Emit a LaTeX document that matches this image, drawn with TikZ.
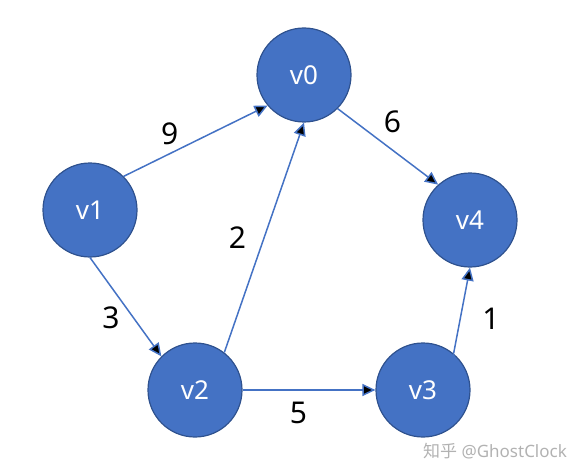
\documentclass[tikz,border=0pt]{standalone}
\usepackage{fontspec}
\setmainfont{Noto Sans}
\newfontfamily\cjk{Noto Sans CJK SC}
\usepackage{tikz}
\usetikzlibrary{arrows.meta}
\definecolor{vfill}{HTML}{4472C4}
\definecolor{vline}{HTML}{2F528F}

\begin{document}
\begin{tikzpicture}[x=1pt, y=-1pt,
	vertex/.style={circle, fill=vfill, draw=vline, line width=1.2pt, minimum size=94pt, inner sep=0pt, text=white, font=\fontsize{26}{30}\selectfont},
	weight/.style={font=\fontsize{30}{34}\selectfont, text=black},
	arc/.style={-{Triangle[length=13pt,width=12pt]}, draw=vfill, line width=1.5pt}]
\useasboundingbox (0,0) rectangle (586,476);
\node[vertex] (v0) at (304,75) {v0};
\node[vertex] (v1) at (90,210) {v1};
\node[vertex] (v4) at (470,220) {v4};
\node[vertex] (v2) at (195,390) {v2};
\node[vertex] (v3) at (423,390) {v3};
\path[arc]
(v1.45) edge node [weight, pos=0.32, above=5pt] {9} (v0.220)
(v0.315) edge node [weight, pos=0.4, above right=2pt] {6} (v4.132)
(v2.52) edge node [weight, pos=0.5, left=14pt] {2} (v0.270)
(v1.270) edge node [weight, pos=0.61, left=10pt] {3} (v2.135)
(v2.0) edge node [weight, pos=0.42, below=8pt] {5} (v3.180)
(v3.50) edge node [weight, pos=0.41, right=18pt] {1} (v4.270)
;
\node[font=\fontsize{17}{20}\selectfont, text=gray!60] (mark) at (495,451) {{\cjk 知乎} @GhostClock};
\end{tikzpicture}
\end{document}
